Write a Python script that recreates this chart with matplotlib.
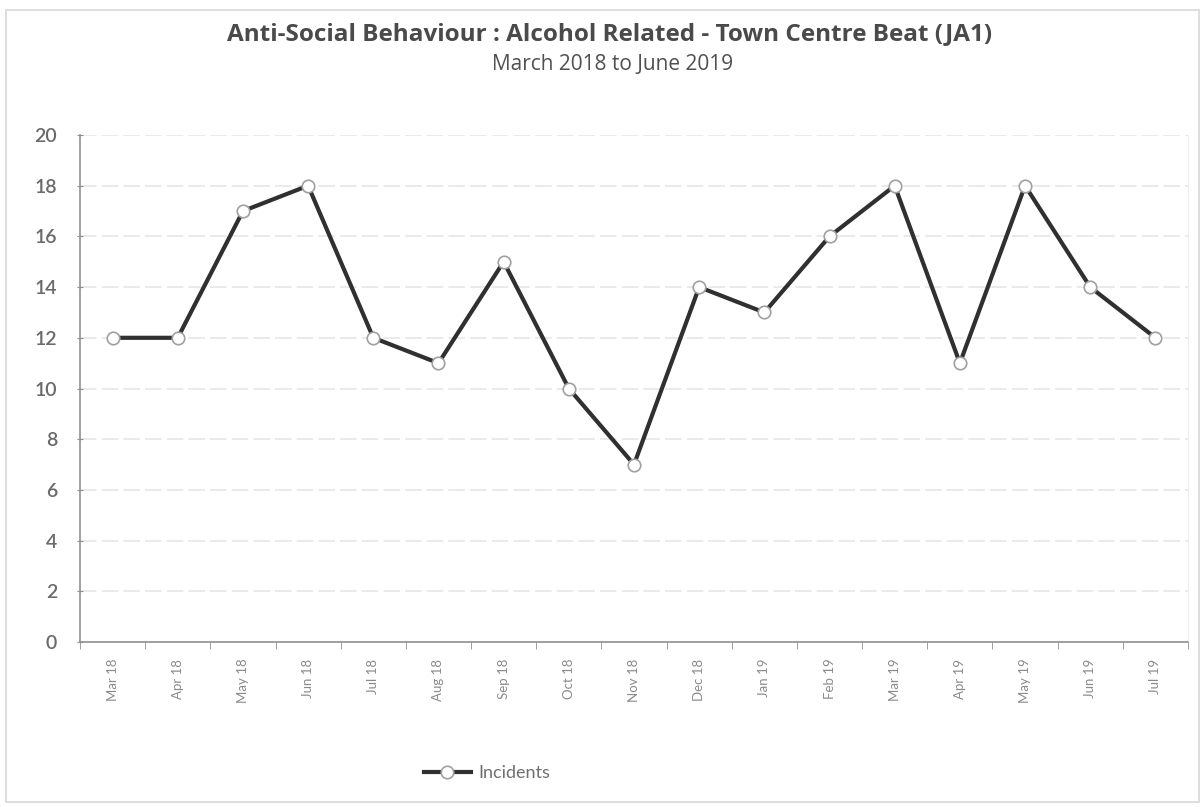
import matplotlib
matplotlib.use("Agg")
import matplotlib.pyplot as plt
from matplotlib.patches import Rectangle
import numpy as np

months = ["Mar 18", "Apr 18", "May 18", "Jun 18", "Jul 18", "Aug 18", "Sep 18",
          "Oct 18", "Nov 18", "Dec 18", "Jan 19", "Feb 19", "Mar 19", "Apr 19",
          "May 19", "Jun 19", "Jul 19"]
incidents = [12, 12, 17, 18, 12, 11, 15, 10, 7, 14, 13, 16, 18, 11, 18, 14, 12]
y_ticks = list(range(0, 21, 2))

title = "Anti-Social Behaviour : Alcohol Related - Town Centre Beat (JA1)"
subtitle = "March 2018 to June 2019"

plt.rcParams["font.family"] = ["Lato", "DejaVu Sans"]

fig = plt.figure(figsize=(12.04, 8.07), dpi=100)
fig.patch.set_facecolor("white")

# outer chart frame
fig.add_artist(Rectangle((6 / 1204, 1 - 802 / 807), (1199 - 6) / 1204, (802 - 10) / 807,
                         transform=fig.transFigure, fill=False, edgecolor="#d8d8d8", lw=1.2))

ax = fig.add_axes([80 / 1204, 1 - 642 / 807, (1188 - 80) / 1204, (642 - 135) / 807])
x = np.arange(len(months))
ax.plot(x, incidents, color="#303030", lw=3.0, marker="o", markersize=9,
        markerfacecolor="white", markeredgecolor="#a0a0a0", markeredgewidth=1.2,
        label="Incidents", zorder=3)

ax.set_xlim(-0.5, len(months) - 0.5)
ax.set_ylim(0, 20)
ax.set_yticks(y_ticks)
ax.set_yticklabels([str(v) for v in y_ticks], fontsize=14, color="#6a6a6a",
                   fontweight="semibold")
ax.grid(axis="y", color="#e6e6e6", lw=1.2, linestyle=(0, (10, 3)))
ax.set_axisbelow(True)

ax.set_xticks(x)
ax.set_xticklabels(months, rotation=90, fontsize=9.5, color="#8a8a8a")
ax.set_xticks(np.arange(-0.5, len(months)), minor=True)
ax.tick_params(axis="x", which="major", length=0, pad=12)
ax.tick_params(axis="x", which="minor", length=5, color="#909090")
ax.tick_params(axis="y", length=5, color="#909090", direction="inout", pad=14)

ax.spines["top"].set_visible(False)
ax.spines["right"].set_color("#eeeeee")
for side in ["left", "bottom"]:
    ax.spines[side].set_color("#909090")
    ax.spines[side].set_linewidth(1.2)

fig.text(0.506, 1 - 34 / 807, title, ha="center", va="center", fontsize=17.5,
         fontweight="bold", color="#4a4a4a", family=["Open Sans", "DejaVu Sans"])
fig.text(0.509, 1 - 64 / 807, subtitle, ha="center", va="center", fontsize=15,
         color="#505050", family=["Open Sans", "DejaVu Sans"])

fig.legend(loc="center", bbox_to_anchor=(487 / 1204, 1 - 773 / 807), frameon=False,
           fontsize=13, handlelength=2.6, handletextpad=0.4, labelcolor="#707070")

fig.savefig("out.png", dpi=100, facecolor="white")
